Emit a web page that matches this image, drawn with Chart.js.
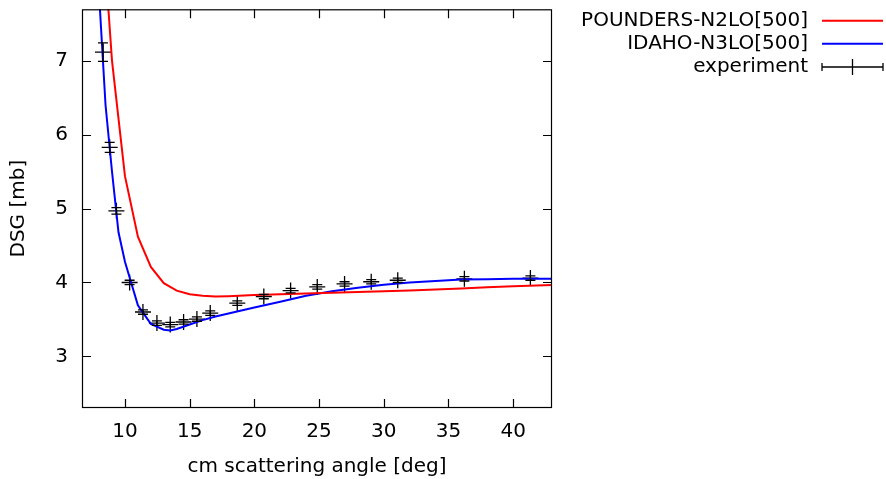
<!DOCTYPE html>
<html>
<head>
<meta charset="utf-8">
<script src="https://cdn.jsdelivr.net/npm/chart.js@4"></script>
<style>
  body { margin: 0; background: #fff; }
  #wrap { width: 886px; height: 479px; position: relative; }
</style>
</head>
<body>
<div id="wrap"><canvas id="myChart"></canvas></div>
<script>
// curves
const redX = [8, 9, 10, 11, 12, 13, 14, 15, 16, 17, 18, 20, 22, 24, 26, 28, 30, 32, 34, 36, 38, 40, 43]
const redY = [9.5, 7.0, 5.44, 4.62, 4.21, 3.99, 3.89, 3.84, 3.82, 3.81, 3.815, 3.83, 3.84, 3.85, 3.86, 3.87, 3.88, 3.89, 3.905, 3.92, 3.935, 3.95, 3.965]

const blueX = [8, 8.5, 9, 9.5, 10, 11, 12, 13, 13.5, 14, 15, 16, 17, 18, 19, 20, 22, 24, 26, 28, 30, 32, 34, 36, 38, 40, 43]
const blueY = [7.9, 6.4, 5.5, 4.68, 4.28, 3.69, 3.44, 3.36, 3.35, 3.37, 3.43, 3.49, 3.54, 3.58, 3.62, 3.66, 3.74, 3.82, 3.88, 3.93, 3.97, 4.0, 4.02, 4.04, 4.045, 4.05, 4.05]

// experiment
const expX = [8.30, 8.82, 9.34, 10.36, 11.39, 12.47, 13.5, 14.53, 15.56, 16.59, 18.68, 20.73, 22.8, 24.86, 26.97, 29.03, 31.08, 36.23, 41.33]
const expY = [7.12, 5.83, 4.97, 4.00, 3.60, 3.45, 3.43, 3.465, 3.505, 3.585, 3.72, 3.81, 3.89, 3.94, 3.98, 4.01, 4.03, 4.05, 4.06]
const expErr = [0.125, 0.068, 0.045, 0.03, 0.03, 0.03, 0.03, 0.03, 0.03, 0.03, 0.03, 0.03, 0.03, 0.03, 0.03, 0.03, 0.03, 0.03, 0.03]

const xTicks = [10, 15, 20, 25, 30, 35, 40]
const yTicks = [3, 4, 5, 6, 7]

const labels = ['POUNDERS-N2LO[500]', 'IDAHO-N3LO[500]', 'experiment']
const colors = ['#ff0000', '#0000ff', '#000000']

function toPoints(xs, ys) {
    return xs.map((x, i) => ({x: x, y: ys[i]}))
}

// gnuplot look: box, inward ticks, error bars, key
const gnuplotBits = {
    id: 'gnuplotBits',
    afterDatasetsDraw(chart) {
        const ctx = chart.ctx
        const xs = chart.scales.x
        const ys = chart.scales.y
        ctx.save()
        ctx.beginPath()
        ctx.rect(chart.chartArea.left, chart.chartArea.top, chart.chartArea.width, chart.chartArea.height)
        ctx.clip()
        ctx.strokeStyle = '#000'
        ctx.lineWidth = 1.3
        expX.forEach((x, i) => {
            const px = xs.getPixelForValue(x)
            const top = ys.getPixelForValue(expY[i] + expErr[i])
            const bot = ys.getPixelForValue(expY[i] - expErr[i])
            ctx.beginPath()
            ctx.moveTo(px, top); ctx.lineTo(px, bot)
            ctx.moveTo(px - 5, top); ctx.lineTo(px + 5, top)
            ctx.moveTo(px - 5, bot); ctx.lineTo(px + 5, bot)
            ctx.stroke()
        })
        ctx.restore()
    },
    afterDraw(chart) {
        const ctx = chart.ctx
        const a = chart.chartArea
        const xs = chart.scales.x
        const ys = chart.scales.y
        ctx.save()
        ctx.strokeStyle = '#000'
        ctx.lineWidth = 1.2
        ctx.strokeRect(a.left + 0.5, a.top + 0.5, a.width - 1, a.height - 1)
        ctx.beginPath()
        xTicks.forEach((v) => {
            const px = Math.round(xs.getPixelForValue(v)) + 0.5
            ctx.moveTo(px, a.bottom); ctx.lineTo(px, a.bottom - 9)
            ctx.moveTo(px, a.top); ctx.lineTo(px, a.top + 9)
        })
        yTicks.forEach((v) => {
            const py = Math.round(ys.getPixelForValue(v)) + 0.5
            ctx.moveTo(a.left, py); ctx.lineTo(a.left + 9, py)
            ctx.moveTo(a.right, py); ctx.lineTo(a.right - 9, py)
        })
        ctx.stroke()

        // key
        ctx.font = '20px "DejaVu Sans"'
        ctx.textAlign = 'right'
        ctx.textBaseline = 'middle'
        ctx.fillStyle = '#000'
        const rows = [20.7, 43.8, 67]
        labels.forEach((lab, i) => {
            const y = rows[i]
            ctx.fillText(lab, 808, y)
            ctx.strokeStyle = colors[i]
            ctx.lineWidth = i < 2 ? 2 : 1.3
            ctx.beginPath()
            ctx.moveTo(822, y); ctx.lineTo(883, y)
            if (i == 2) {
                ctx.moveTo(822, y - 4); ctx.lineTo(822, y + 4)
                ctx.moveTo(883, y - 4); ctx.lineTo(883, y + 4)
                ctx.moveTo(852.5, y - 8); ctx.lineTo(852.5, y + 8)
            }
            ctx.stroke()
        })
        ctx.restore()
    }
}

function chart() {
    Chart.defaults.font.family = '"DejaVu Sans"'
    Chart.defaults.font.size = 20
    Chart.defaults.color = '#000'

    const data = {
        datasets: [
            {
                label: labels[0],
                data: toPoints(redX, redY),
                showLine: true,
                borderColor: colors[0],
                borderWidth: 2,
                pointRadius: 0,
                tension: 0
            },
            {
                label: labels[1],
                data: toPoints(blueX, blueY),
                showLine: true,
                borderColor: colors[1],
                borderWidth: 2,
                pointRadius: 0,
                tension: 0
            },
            {
                label: labels[2],
                data: toPoints(expX, expY),
                showLine: false,
                pointStyle: 'cross',
                pointRadius: 8,
                pointBorderWidth: 1.3,
                borderColor: colors[2],
                backgroundColor: colors[2]
            }
        ]
    }

    const config = {
        type: 'scatter',
        data: data,
        plugins: [gnuplotBits],
        options: {
            responsive: true,
            maintainAspectRatio: false,
            animation: false,
            layout: { padding: { top: 9, right: 334, left: 0, bottom: 0 } },
            plugins: { legend: { display: false }, tooltip: { enabled: false } },
            scales: {
                x: {
                    type: 'linear',
                    min: 6.68,
                    max: 43,
                    afterBuildTicks: (s) => { s.ticks = xTicks.map(v => ({value: v})) },
                    afterFit: (s) => { s.height = 71; s.paddingLeft = 0; s.paddingRight = 0 },
                    grid: { display: false, drawTicks: false },
                    border: { display: false },
                    ticks: { padding: 12, maxRotation: 0 },
                    title: { display: true, text: 'cm scattering angle [deg]', padding: { top: 0, bottom: 0 } }
                },
                y: {
                    type: 'linear',
                    min: 2.3,
                    max: 7.7,
                    afterBuildTicks: (s) => { s.ticks = yTicks.map(v => ({value: v})) },
                    afterFit: (s) => { s.width = 82; s.paddingTop = 0; s.paddingBottom = 0 },
                    grid: { display: false, drawTicks: false },
                    border: { display: false },
                    ticks: { padding: 14 },
                    title: { display: true, text: 'DSG [mb]', padding: { top: 7, bottom: 0 } }
                }
            }
        }
    }

    return new Chart(document.getElementById('myChart'), config)
}

document.addEventListener('DOMContentLoaded', () => chart())
</script>
</body>
</html>
